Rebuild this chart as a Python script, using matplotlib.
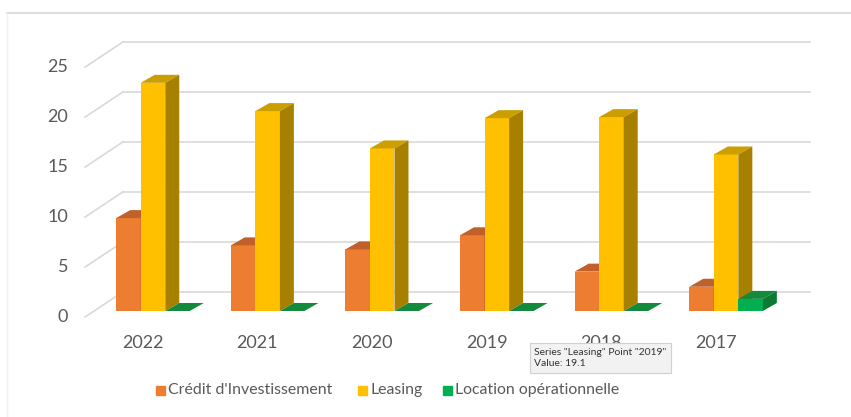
import numpy as np
import matplotlib
matplotlib.use("Agg")
import matplotlib.pyplot as plt
from matplotlib.patches import Polygon, Rectangle
from matplotlib.lines import Line2D

plt.rcParams['font.family'] = ['Lato', 'DejaVu Sans']

# donnees
annees = ['2022', '2021', '2020', '2019', '2018', '2017']
credit = [9.2, 6.5, 6.1, 7.5, 3.9, 2.4]
leasing = [22.6, 19.8, 16.1, 19.1, 19.2, 15.5]
location = [0, 0, 0, 0, 0, 1.2]
series = ["Crédit d'Investissement", "Leasing", "Location opérationnelle"]
yticks = [0, 5, 10, 15, 20, 25]

# couleurs : face avant, dessus, cote
couleurs = [('#ED7D31', '#C0602A', '#B35A20'),
            ('#FFC000', '#CC9E00', '#A88000'),
            ('#00B050', '#138A3C', '#0C7A33')]

W, H = 851, 417
fig = plt.figure(figsize=(W / 100, H / 100), dpi=100)
ax = fig.add_axes([0, 0, 1, 1])
ax.set_xlim(-1.335, 6.09)
ax.set_ylim(-10.5, 30.8)
ax.axis('off')

larg = 0.214      # largeur d'une barre
dx, dy = 0.122, 0.79   # profondeur 3D
gris = '#D9D9D9'

# murs / quadrillage en perspective
x_fond_g, x_fond_d, x_avant = -0.262, 5.73, -0.593
for v in yticks:
    yb = 0.99 * v + 1.9
    yf = 0.99 * v - 0.6
    ax.plot([x_fond_g, x_fond_d], [yb, yb], color=gris, lw=1.2, zorder=0)
    ax.plot([x_avant, x_fond_g], [yf, yb], color=gris, lw=1.2, zorder=0)
    ax.text(-0.74, yf, str(v), ha='right', va='center',
            fontsize=13, color='#595959')

x = np.arange(len(annees))
z = 1
for i in range(len(annees)):
    for k, vals in enumerate([credit, leasing, location]):
        face, dessus, cote = couleurs[k]
        x0 = x[i] - 1.5 * larg + k * larg
        h = vals[i]
        ax.bar(x0, h, width=larg, align='edge', color=face, lw=0, zorder=z)
        ax.add_patch(Polygon([(x0, h), (x0 + larg, h), (x0 + larg + dx, h + dy),
                              (x0 + dx, h + dy)], closed=True, color=dessus,
                             lw=0, zorder=z))
        ax.add_patch(Polygon([(x0 + larg, 0), (x0 + larg + dx, dy),
                              (x0 + larg + dx, h + dy), (x0 + larg, h)],
                             closed=True, color=cote, lw=0, zorder=z))
        z += 1
    ax.text(x[i] - 0.09, -3.17, annees[i], ha='center', va='center',
            fontsize=13, color='#595959')

# legende
leg_x = [156, 358, 443]
for k, nom in enumerate(series):
    fig.patches.append(Rectangle((leg_x[k] / W, 1 - 395 / H), 9 / W, 9 / H,
                                 transform=fig.transFigure, color=couleurs[k][0]))
    fig.text((leg_x[k] + 12) / W, 1 - 390 / H, nom, ha='left', va='center',
             fontsize=11.4, color='#595959')

# info-bulle
ax.text(533 / 114.6 - 153 / 114.6 + 0.01, (311 - 358) / 10.1,
        'Series "Leasing" Point "2019"\nValue: 19.1', ha='left', va='center',
        fontsize=7.5, color='#333333', linespacing=1.4, zorder=50,
        bbox=dict(boxstyle='square,pad=0.45', fc='#F2F2F2', ec='#D0D0D0', lw=0.8))

# bordure haut
fig.lines.append(Line2D([7 / W, 1], [1 - 13 / H, 1 - 13 / H], transform=fig.transFigure,
                        color='#DDDDDD', lw=1.5))
fig.lines.append(Line2D([7 / W, 7 / W], [0, 1 - 13 / H], transform=fig.transFigure,
                        color='#F0F0F0', lw=1))

fig.savefig('out.png', dpi=100)
